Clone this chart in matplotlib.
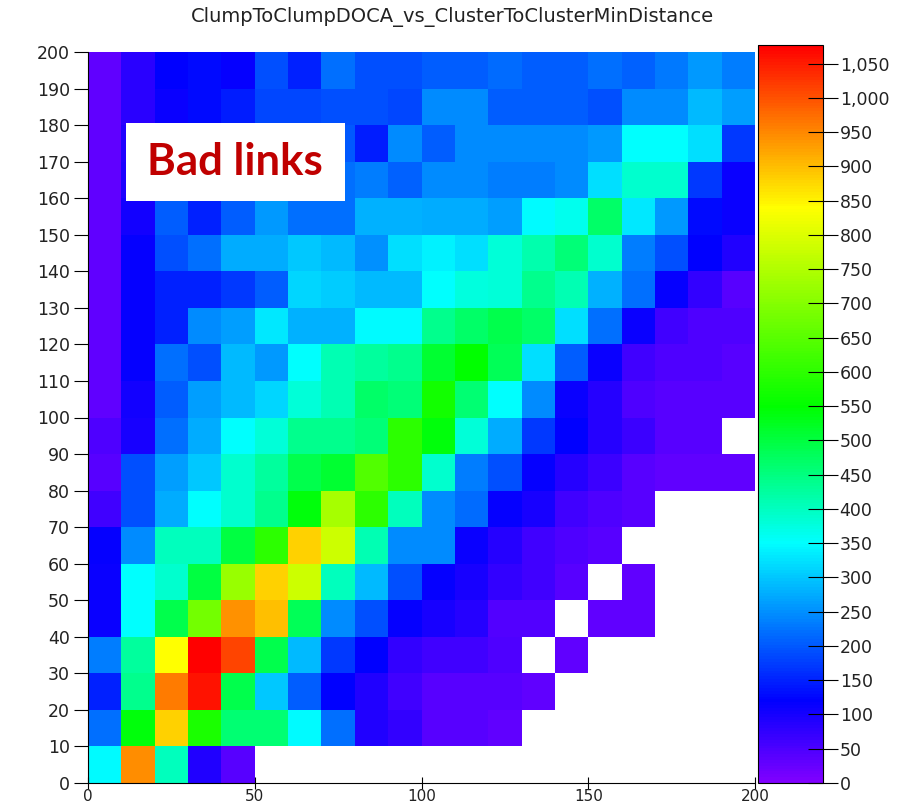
import numpy as np
import matplotlib
matplotlib.use("Agg")
import matplotlib.pyplot as plt
import matplotlib.patches as mpatches
from matplotlib.colors import LinearSegmentedColormap
from matplotlib.ticker import FuncFormatter

title = "ClumpToClumpDOCA_vs_ClusterToClusterMinDistance"
label_text = "Bad links"

# bin edges (10 wide on both axes)
x_edges = list(range(0, 210, 10))
y_edges = list(range(0, 210, 10))

# counts per bin, one list per y-bin (0-10 first), columns are x-bins 0-10 ... 190-200
# None = empty bin (drawn white)
N = None
counts = [
    [345, 945, 400, 90, 40, N, N, N, N, N, N, N, N, N, N, N, N, N, N, N],
    [220, 540, 880, 580, 460, 460, 345, 220, 90, 75, 40, 40, 30, N, N, N, N, N, N, N],
    [150, 440, 960, 1060, 490, 300, 205, 120, 90, 60, 40, 40, 40, 30, N, N, N, N, N, N],
    [235, 425, 840, 1075, 1010, 490, 290, 170, 120, 75, 60, 60, 50, N, 30, N, N, N, N, N],
    [110, 350, 490, 680, 940, 900, 480, 245, 190, 115, 100, 85, 45, 45, N, 30, 30, N, N, N],
    [110, 350, 390, 500, 720, 880, 780, 400, 290, 190, 115, 100, 75, 60, 40, N, 30, N, N, N],
    [115, 245, 400, 400, 500, 600, 880, 780, 410, 245, 245, 110, 85, 60, 50, 40, N, N, N, N],
    [60, 190, 275, 350, 390, 440, 540, 740, 600, 400, 245, 215, 115, 100, 60, 50, 40, N, N, N],
    [40, 190, 265, 300, 390, 425, 490, 510, 640, 600, 390, 235, 190, 115, 85, 65, 40, 30, 30, 30],
    [50, 100, 220, 275, 350, 380, 440, 440, 455, 600, 540, 380, 275, 170, 120, 85, 65, 40, 40, N],
    [30, 105, 205, 265, 290, 315, 380, 410, 470, 455, 570, 460, 350, 245, 110, 85, 50, 40, 40, 40],
    [30, 115, 220, 190, 290, 260, 350, 410, 425, 440, 510, 550, 480, 320, 205, 110, 60, 50, 50, 40],
    [30, 115, 150, 245, 265, 330, 280, 280, 345, 345, 440, 470, 490, 470, 320, 220, 110, 60, 50, 50],
    [30, 115, 150, 150, 170, 205, 315, 305, 290, 290, 350, 375, 380, 440, 410, 280, 220, 115, 75, 40],
    [30, 115, 190, 220, 275, 275, 300, 290, 250, 320, 340, 320, 380, 415, 455, 390, 235, 190, 120, 90],
    [30, 105, 205, 150, 205, 260, 220, 220, 280, 280, 275, 275, 265, 345, 365, 470, 330, 260, 130, 110],
    [30, 95, 180, 190, 200, 210, 210, 220, 235, 210, 245, 245, 235, 235, 245, 320, 390, 390, 170, 110],
    [30, 90, 120, 150, 160, 180, 200, 200, 145, 245, 205, 245, 245, 245, 245, 260, 350, 350, 320, 170],
    [30, 80, 110, 130, 145, 185, 185, 190, 190, 185, 245, 245, 205, 205, 205, 190, 245, 245, 290, 265],
    [30, 80, 120, 130, 115, 190, 150, 220, 190, 190, 205, 205, 215, 205, 205, 220, 210, 230, 260, 235],
]
z_max = 1077
cbar_ticks = list(range(0, 1100, 50))

# ROOT-like rainbow palette
rainbow = LinearSegmentedColormap.from_list("root_rainbow", [
    (0.0, (0.5, 0.0, 1.0)),
    (0.11, (0.0, 0.0, 1.0)),
    (0.325, (0.0, 1.0, 1.0)),
    (0.51, (0.0, 1.0, 0.0)),
    (0.78, (1.0, 1.0, 0.0)),
    (1.0, (1.0, 0.0, 0.0)),
])

z = np.ma.masked_invalid(np.array(counts, dtype=float))

fig = plt.figure(figsize=(9.04, 8.07), dpi=100)
ax = fig.add_axes([88/904, 24/807, 667/904, 731/807])
cax = fig.add_axes([758/904, 24/807, 65/904, 738/807])

mesh = ax.pcolormesh(x_edges, y_edges, z, cmap=rainbow, vmin=0, vmax=z_max)
ax.set_xlim(0, 200)
ax.set_ylim(0, 200)
ax.set_xticks([0, 50, 100, 150, 200])
ax.set_yticks(list(range(0, 210, 10)))
ax.tick_params(axis="x", direction="inout", length=8, labelsize=11, pad=0,
               labelcolor="#222222")
ax.tick_params(axis="y", direction="out", length=10, labelsize=12.5, pad=3,
               labelcolor="#222222")
for s in ["top", "right"]:
    ax.spines[s].set_visible(False)
for s in ["left", "bottom"]:
    ax.spines[s].set_linewidth(0.8)

cb = fig.colorbar(mesh, cax=cax)
cb.set_ticks(cbar_ticks)
cb.ax.yaxis.set_major_formatter(FuncFormatter(lambda v, p: "{:,.0f}".format(v)))
cb.ax.tick_params(direction="inout", length=22, labelsize=12.5, pad=1,
                  labelcolor="#222222")
cb.outline.set_linewidth(0.8)

fig.text(0.5, 1 - 17/807, title, ha="center", va="center", fontsize=14, color="#222222")

# annotation box
fig.patches.append(mpatches.Rectangle((126/904, 606/807), 219/904, 78/807,
                                      transform=fig.transFigure, facecolor="white",
                                      edgecolor="none", zorder=5))
fig.text(235/904, 1 - 162/807, label_text, ha="center", va="center",
         fontsize=31.5, fontweight="bold", family="Lato", color="#c00000", zorder=6)

fig.savefig("out.png", dpi=100)
